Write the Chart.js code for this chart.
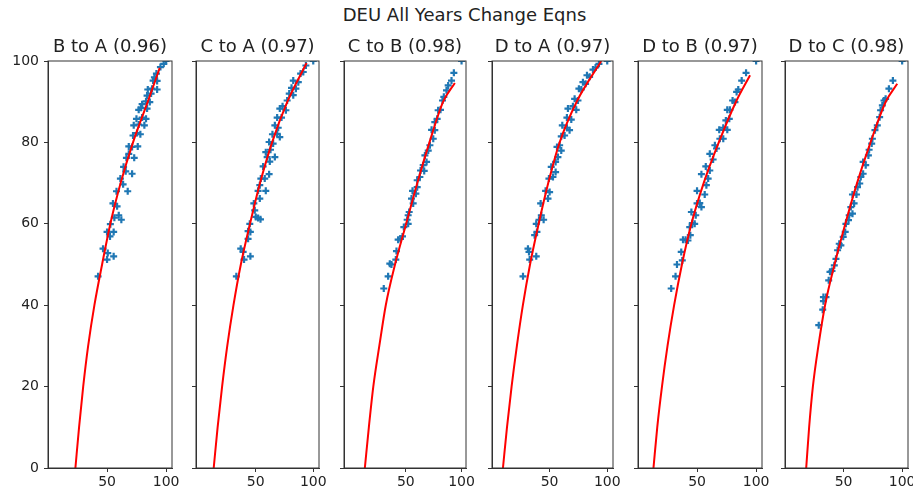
<!DOCTYPE html>
<html>
<head>
<meta charset="utf-8">
<script src="https://cdn.jsdelivr.net/npm/chart.js@4.4.1/dist/chart.umd.min.js"></script>
<style>
    html, body { margin: 0; padding: 0; background: #fff; width: 913px; height: 490px; overflow: hidden; }
    #suptitle { position: absolute; top: 4px; left: 8px; width: 913px; text-align: center;
                font: 18px 'DejaVu Sans'; color: #222; }
    .panel { position: absolute; top: 30px; }
</style>
</head>
<body>
<div id="suptitle">DEU All Years Change Eqns</div>
<div id="wrap"></div>
<script>
// ---- data ----
const titles = ['B to A (0.96)', 'C to A (0.97)', 'C to B (0.98)', 'D to A (0.97)', 'D to B (0.97)', 'D to C (0.98)'];
const yTicks = [0, 20, 40, 60, 80, 100];
const xTicks = [50, 100];
const xMin = [0, -2, -5.5, 0, 0, 0];
const xMax = [105, 105, 104, 105, 105, 105];

// scatter points [x, y]
const ptsBA = [[42.4,47.1],[46.6,53.9],[50,51.2],[50.6,52.8],[55.6,52],[50,58],[55.6,58],[52.8,59.9],[52.5,56.9],[56.2,61.5],[59.9,62.1],[62.1,61],[55,65],[58.5,64.3],[58,68],[67.5,68],[61.3,71.1],[63.6,69.7],[64,74],[65.8,72.9],[71.2,72.3],[66.4,76.2],[68.4,77.2],[73,76.2],[68.4,79],[71.2,78.9],[76,79],[72,81.7],[75.4,82.3],[78.2,82],[72.6,84.2],[76.8,84.4],[81.6,84.2],[74.9,85.8],[79.7,86.1],[83,85.8],[76.8,88],[78.8,88.5],[83.9,88.3],[79.7,89.4],[83,90.1],[86.2,89.9],[83.9,91.5],[87.3,92],[84.5,93],[88.1,93.2],[92.4,93],[89,95.2],[92.4,95.1],[90.1,96],[91.8,96.9],[95.2,98.5],[98,99.3],[100,100]];
const ptsCA = [[33.1,47.1],[36.9,53.9],[39,53.1],[39.8,51.2],[45.3,52],[43.3,56.3],[45.3,58],[43.3,58.2],[44.8,60],[50,61.7],[52,61.4],[54.1,61.1],[49.1,63.3],[48.3,65],[53.5,66.2],[52,68.1],[58.7,68.1],[53.5,69.5],[54.4,71.1],[57.8,71.1],[56.4,74.1],[61.6,72.2],[59.9,76.4],[62.2,75.3],[58.7,77.6],[62.8,78.2],[66.6,76.4],[61.6,80.1],[65.1,79.7],[64.5,82],[68.6,82.1],[70.9,81.3],[66.6,84.2],[69.5,83.6],[68.6,86.1],[72.4,86.1],[70.9,88.3],[73.3,88.9],[76.2,87.9],[77.3,90.3],[79.1,92],[82.6,91.6],[81.1,93.4],[84.9,93.2],[82.6,95.2],[87,94.8],[89,96.9],[91.3,97.3],[93.6,98.9],[100,100]];
const ptsCB = [[30.2,44.1],[34.1,47.1],[35.6,50.2],[37.1,50],[41,51.2],[41.6,53.3],[43.1,56.1],[45.2,56.3],[47,56.9],[48.2,59.2],[52.1,60],[51.2,61],[53,62.9],[52.1,62.1],[56.6,65],[55.1,66.2],[56,68.1],[59,67.4],[60.2,69],[60.2,70.7],[62.6,71.5],[63.2,73.1],[66.5,73],[65.6,74.4],[68.6,75.2],[67.1,76.8],[70.1,78],[71.6,79.3],[74.6,80.9],[73.1,83.1],[76,83],[76,85],[78.1,85.8],[79,87.9],[81.1,88],[82.9,90.3],[84.1,91.2],[86.5,92.8],[88,94],[91,95.2],[93.1,97.1],[100,100]];
const ptsDA = [[26.9,47.1],[31.2,53.9],[32.1,53.1],[32.7,51.2],[38.4,52],[37,57.2],[39,58],[38.4,60],[40.8,61],[42.8,62.1],[44.8,61],[42.2,65],[48.6,66.2],[46.5,68.1],[50,67.8],[49.4,71.1],[52.9,71.5],[51.4,74],[55.2,72.7],[55.2,75.2],[57.2,76.4],[56.4,78.9],[58.7,79.3],[60.1,78],[60.1,81.5],[63,81.7],[61,84.2],[65,83.6],[67.3,83],[65,86.1],[68.8,85.6],[65.9,88.3],[70.2,88.9],[73.1,88],[71.7,90.7],[74.6,90.3],[75.4,93.2],[77.5,93],[78.9,94.8],[81.2,94.4],[82.4,96.5],[84.7,96.1],[87.6,97.9],[89.9,98.4],[92.8,99.3],[100,100]];
const ptsDB = [[28.1,44.1],[31.8,47.1],[33,50],[36.6,53.1],[37.5,51],[38.1,56.1],[40.3,56.1],[42.3,55.9],[44.3,57.2],[43.8,59.2],[46,60.2],[48,60],[45.2,62.9],[48.9,62.1],[50,65],[52.3,65.1],[53.7,64.1],[50,68.1],[56.5,67.2],[57.9,69.5],[53.7,72.2],[59.4,71.1],[57.4,74.1],[60.8,73.1],[60.8,77.2],[63.6,75.8],[65.1,79.3],[66.5,78.5],[69.3,80.9],[72.2,80.9],[68.8,83.1],[72.2,83.6],[75.6,83.1],[74.4,85.4],[77.3,85.8],[75.6,88],[77.8,88],[80.1,90.3],[82.1,89.9],[83.5,92.4],[84.9,93],[87.8,95.2],[91.5,97.1],[100,100]];
const ptsDC = [[28.8,35.1],[32.2,38.9],[32.8,41],[35,42],[32.8,42],[37.3,46.1],[38.4,48.2],[40.1,48.4],[42.1,49.8],[43.5,51.4],[44.9,53.5],[46.3,55.1],[47.7,54.7],[49.7,56.8],[51.4,58],[52,60],[54.2,60.9],[54.8,62.1],[57.6,62.5],[56.2,64.1],[59,65],[61,67.2],[57.6,67.2],[61.9,69],[63.8,69.9],[64.7,71.5],[66.7,72.3],[68.9,74.4],[66.7,75.2],[71.2,76.8],[71.8,78.2],[74,79.7],[74.6,80.9],[76.8,83],[78.8,84.2],[80.8,86.2],[81.6,87.9],[83.1,89.1],[84.5,90.3],[85.9,90.7],[88.7,93.2],[92.1,95.2],[100,100]];

// fitted curves [x, y]
const fitBA = [[23.2,0],[26.3,10],[29.8,20],[34,30],[39.3,40],[45.8,50],[52.8,60],[61.5,70],[72,80],[84.5,90],[94.6,98.3]];
const fitCA = [[13.4,0],[16.8,10],[20.7,20],[25.2,30],[30.6,40],[37,50],[45,60],[53.7,70],[64.2,80],[77.5,90],[94.2,99.5]];
const fitCB = [[13.2,0],[16.8,10],[20.8,20],[26.2,30],[32,40],[40.3,50],[50.3,60],[60.3,70],[71.2,80],[83.5,90],[94,94.6]];
const fitDA = [[9.5,0],[13,10],[17,20],[21.6,30],[26.8,40],[33,50],[40.5,60],[48.8,70],[58.7,80],[73.5,90],[94.8,100]];
const fitDB = [[13.1,0],[16.3,10],[20.3,20],[25,30],[30.6,40],[37.2,50],[45.2,60],[55.6,70],[68.4,80],[83,90],[94.9,96.5]];
const fitDC = [[18.1,0],[20.6,10],[23.8,20],[28.5,30],[34.2,40],[42.3,50],[51.5,60],[61.5,70],[73,80],[86,90],[95.8,94.4]];

const points = [ptsBA, ptsCA, ptsCB, ptsDA, ptsDB, ptsDC];
const fits = [fitBA, fitCA, fitCB, fitDA, fitDB, fitDC];

// ---- layout (pixels) ----
const areaLeft = [48, 196, 344, 492, 638, 785];
const areaWidth = [124, 123, 122, 121, 124, 123];
const canvasH = 460;
const xAxisH = 22;
const rightPad = 16;

const toXY = arr => arr.map(([x, y]) => ({ x, y }));

// matplotlib-like box round the axes
const framePlugin = {
    id: 'frame',
    afterDraw(chart) {
        const { ctx, chartArea: a } = chart;
        ctx.save();
        ctx.strokeStyle = '#333';
        ctx.lineWidth = 1;
        ctx.strokeRect(a.left, a.top, a.right - a.left, a.bottom - a.top);
        ctx.restore();
    }
};

const wrap = document.getElementById('wrap');

titles.forEach((title, i) => {
    const yW = i === 0 ? 48 : 8;
    const w = yW + areaWidth[i] + rightPad;

    const div = document.createElement('div');
    div.className = 'panel';
    div.style.left = (areaLeft[i] - yW) + 'px';
    const canvas = document.createElement('canvas');
    canvas.width = w;
    canvas.height = canvasH;
    canvas.style.width = w + 'px';
    canvas.style.height = canvasH + 'px';
    div.appendChild(canvas);
    wrap.appendChild(div);

    new Chart(canvas.getContext('2d'), {
        type: 'scatter',
        data: {
            datasets: [
                {
                    type: 'line',
                    data: toXY(fits[i]),
                    borderColor: '#ff0000',
                    borderWidth: 2,
                    pointRadius: 0,
                    fill: false,
                    cubicInterpolationMode: 'monotone',
                    clip: 0,
                    order: 0
                },
                {
                    data: toXY(points[i]),
                    pointStyle: 'cross',
                    pointRadius: 3.5,
                    pointBorderWidth: 2.2,
                    borderColor: '#1f77b4',
                    backgroundColor: '#1f77b4',
                    clip: 0,
                    order: 1
                }
            ]
        },
        options: {
            responsive: false,
            animation: false,
            devicePixelRatio: 1,
            layout: { padding: { left: 0, right: rightPad, top: 0, bottom: 0 } },
            plugins: {
                legend: { display: false },
                tooltip: { enabled: false },
                title: {
                    display: true,
                    fullSize: false,
                    text: title,
                    color: '#222',
                    font: { family: 'DejaVu Sans', size: 18, weight: 'normal', lineHeight: 1.2 },
                    padding: { top: 7, bottom: 2.4 }
                }
            },
            scales: {
                x: {
                    type: 'linear',
                    min: xMin[i],
                    max: xMax[i],
                    afterBuildTicks: s => { s.ticks = xTicks.map(v => ({ value: v })); },
                    afterFit: s => { s.height = xAxisH; },
                    grid: { drawOnChartArea: false, drawTicks: true, tickLength: 4, color: '#333' },
                    border: { display: true, color: '#333', width: 1 },
                    ticks: { color: '#222', padding: 2, maxRotation: 0, font: { family: 'DejaVu Sans', size: 14 } }
                },
                y: {
                    min: 0,
                    max: 100,
                    afterBuildTicks: s => { s.ticks = yTicks.map(v => ({ value: v })); },
                    afterFit: s => { s.width = yW; },
                    grid: { drawOnChartArea: false, drawTicks: true, tickLength: 4, color: '#333' },
                    border: { display: true, color: '#333', width: 1 },
                    ticks: { display: i === 0, color: '#222', padding: 5, font: { family: 'DejaVu Sans', size: 14 } }
                }
            }
        },
        plugins: [framePlugin]
    });
});
</script>
</body>
</html>
